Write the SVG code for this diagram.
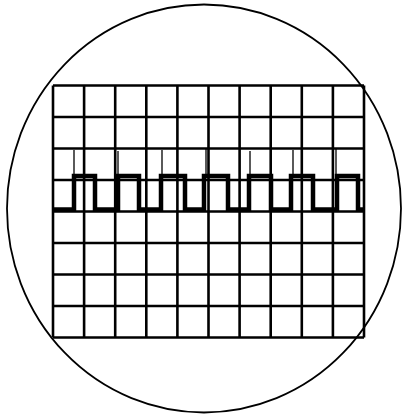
<svg xmlns="http://www.w3.org/2000/svg" width="402" height="414" viewBox="0 0 402 414">
<style>
.screen{fill:none;stroke:#000;stroke-width:1.8}
.grid line{stroke:#000;stroke-width:2.6}
.trace{fill:none;stroke:#000;stroke-width:4.5;stroke-linejoin:miter}
.spike{stroke:#000;stroke-width:1.3}
</style>
<rect width="402" height="414" fill="#fff"/>
<g id="screen"><ellipse class="screen" cx="204" cy="208.5" rx="197" ry="204"/></g>
<g id="grid" class="grid">
<line x1="53" y1="85.5" x2="53" y2="337.5"/>
<line x1="84.1" y1="85.5" x2="84.1" y2="337.5"/>
<line x1="115.2" y1="85.5" x2="115.2" y2="337.5"/>
<line x1="146.3" y1="85.5" x2="146.3" y2="337.5"/>
<line x1="177.4" y1="85.5" x2="177.4" y2="337.5"/>
<line x1="208.5" y1="85.5" x2="208.5" y2="337.5"/>
<line x1="239.6" y1="85.5" x2="239.6" y2="337.5"/>
<line x1="270.7" y1="85.5" x2="270.7" y2="337.5"/>
<line x1="301.8" y1="85.5" x2="301.8" y2="337.5"/>
<line x1="332.9" y1="85.5" x2="332.9" y2="337.5"/>
<line x1="364" y1="85.5" x2="364" y2="337.5"/>
<line x1="53" y1="85.5" x2="364" y2="85.5"/>
<line x1="53" y1="117" x2="364" y2="117"/>
<line x1="53" y1="148.5" x2="364" y2="148.5"/>
<line x1="53" y1="180" x2="364" y2="180"/>
<line x1="53" y1="211.5" x2="364" y2="211.5"/>
<line x1="53" y1="243" x2="364" y2="243"/>
<line x1="53" y1="274.5" x2="364" y2="274.5"/>
<line x1="53" y1="306" x2="364" y2="306"/>
<line x1="53" y1="337.5" x2="364" y2="337.5"/>
</g>
<g id="trace">
<path class="trace" d="M53 209.5 H74 V176 H95 V209.5 H118 V176 H139 V209.5 H161 V176 H185 V209.5 H204 V176 H228 V209.5 H249 V176 H271 V209.5 H291 V176 H313 V209.5 H337 V176 H358 V209.5 H364"/>
<line class="spike" x1="74" y1="150" x2="74" y2="176"/>
<line class="spike" x1="118" y1="151" x2="118" y2="176"/>
<line class="spike" x1="162" y1="150" x2="162" y2="176"/>
<line class="spike" x1="206" y1="149" x2="206" y2="176"/>
<line class="spike" x1="250" y1="151" x2="250" y2="176"/>
<line class="spike" x1="293" y1="150" x2="293" y2="176"/>
<line class="spike" x1="336" y1="148" x2="336" y2="176"/>
</g>
</svg>
